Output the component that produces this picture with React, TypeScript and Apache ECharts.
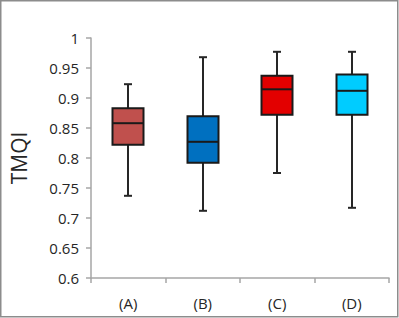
import React, { useEffect, useRef } from "react";
import * as echarts from "echarts";

const categories = ["(A)", "(B)", "(C)", "(D)"];
const minValues = [0.737, 0.712, 0.775, 0.717];
const q1Values = [0.822, 0.792, 0.872, 0.872];
const medianValues = [0.858, 0.827, 0.9145, 0.912];
const q3Values = [0.883, 0.8695, 0.937, 0.939];
const maxValues = [0.923, 0.968, 0.977, 0.977];
const boxColors = ["#C0504D", "#0070C0", "#E30000", "#00CCFF"];

export default function App() {
  const ref = useRef<HTMLDivElement>(null);
  useEffect(() => {
    document.body.style.margin = "0";
    const chart = echarts.init(ref.current!, null, { renderer: "svg" });
    const data = categories.map((_, i) => [i, minValues[i], q1Values[i], medianValues[i], q3Values[i], maxValues[i]]);
    chart.setOption({
      animation: false,
      backgroundColor: "#ffffff",
      graphic: [
        {
          type: "rect",
          shape: { x: 0.75, y: 0.75, width: 397, height: 316 },
          style: { fill: "none", stroke: "#8c8c8c", lineWidth: 1.5 },
          silent: true,
        },
      ],
      grid: { left: 83, right: 10, top: 38, bottom: 40 },
      xAxis: {
        type: "category",
        data: categories,
        boundaryGap: true,
        axisLine: { lineStyle: { color: "#a6a6a6", width: 1.5 } },
        axisTick: { show: true, length: 5, lineStyle: { color: "#a6a6a6", width: 1.5 } },
        axisLabel: { color: "#262626", fontSize: 15, fontFamily: "Open Sans", margin: 17 },
        splitLine: { show: false },
      },
      yAxis: {
        type: "value",
        min: 0.6,
        max: 1,
        interval: 0.05,
        name: "TMQI",
        nameLocation: "middle",
        nameGap: 62,
        nameTextStyle: { color: "#262626", fontSize: 21, fontFamily: "Open Sans" },
        axisLine: { show: true, lineStyle: { color: "#a6a6a6", width: 1.5 } },
        axisTick: { show: true, length: 5, lineStyle: { color: "#a6a6a6", width: 1.5 } },
        axisLabel: {
          color: "#262626",
          fontSize: 15,
          fontFamily: "Open Sans",
          margin: 12,
          formatter: (v: number) => String(parseFloat(v.toFixed(2))),
        },
        splitLine: { show: false },
      },
      series: [
        {
          type: "custom",
          data,
          encode: { x: 0, y: [1, 2, 3, 4, 5] },
          renderItem: (params: any, api: any) => {
            const i = api.value(0);
            const pMin = api.coord([i, api.value(1)]);
            const pQ1 = api.coord([i, api.value(2)]);
            const pMed = api.coord([i, api.value(3)]);
            const pQ3 = api.coord([i, api.value(4)]);
            const pMax = api.coord([i, api.value(5)]);
            const cx = Math.round(pMin[0]);
            const hw = 15.5;
            const cap = 4;
            const whisker = { stroke: "#262626", lineWidth: 2 };
            return {
              type: "group",
              children: [
                { type: "line", shape: { x1: cx, y1: pMax[1], x2: cx, y2: pQ3[1] }, style: whisker },
                { type: "line", shape: { x1: cx, y1: pQ1[1], x2: cx, y2: pMin[1] }, style: whisker },
                { type: "line", shape: { x1: cx - cap, y1: pMax[1], x2: cx + cap, y2: pMax[1] }, style: whisker },
                { type: "line", shape: { x1: cx - cap, y1: pMin[1], x2: cx + cap, y2: pMin[1] }, style: whisker },
                {
                  type: "rect",
                  shape: { x: cx - hw, y: pQ3[1], width: hw * 2, height: pQ1[1] - pQ3[1] },
                  style: { fill: boxColors[params.dataIndex], stroke: "#1a1a1a", lineWidth: 2 },
                },
                {
                  type: "line",
                  shape: { x1: cx - hw, y1: pMed[1], x2: cx + hw, y2: pMed[1] },
                  style: { stroke: "#1a1a1a", lineWidth: 2 },
                },
              ],
            };
          },
        },
      ],
    });
    return () => chart.dispose();
  }, []);
  return <div ref={ref} style={{ width: 399, height: 318 }} />;
}
